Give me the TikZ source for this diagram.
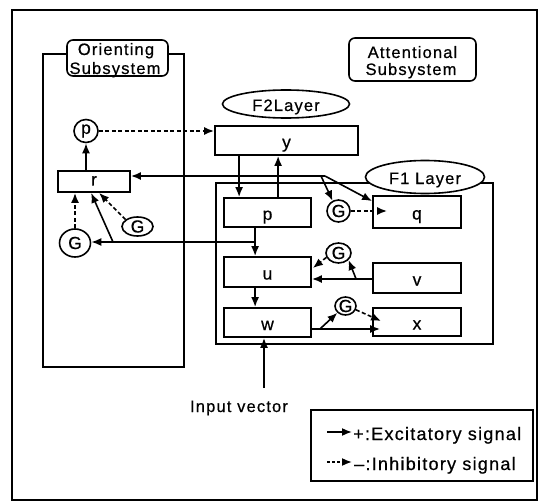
\documentclass[tikz,border=0pt]{standalone}
\usepackage{fontspec}
\setmainfont{Liberation Sans}[LetterSpace=7, FakeBold=0.6]
\usetikzlibrary{arrows.meta,shapes.geometric,calc}

\tikzset{
  frame/.style={draw, line width=1.9pt},
  block/.style={draw, line width=1.8pt, rectangle, inner sep=0pt,
    font=\fontsize{17.5}{17.5}\selectfont, text height=15pt, text depth=0pt},
  gate/.style={draw, line width=1.6pt, ellipse, inner sep=0pt,
    font=\fontsize{17.5}{17.5}\selectfont},
  title/.style={draw, line width=1.6pt, rounded corners=6pt, fill=white, inner sep=0pt},
  ttext/.style={anchor=base, inner sep=0pt, font=\fontsize{16.5}{18}\selectfont},
  layer/.style={draw, line width=1.6pt, ellipse, fill=white, inner sep=0pt,
    font=\fontsize{16.5}{18}\selectfont, text height=14pt, text depth=0pt},
  exc/.style={line width=1.6pt, -{Latex[length=10pt,width=8pt]}},
  inh/.style={exc, dash pattern=on 4pt off 2.5pt},
  plain/.style={line width=1.6pt},
  legtext/.style={anchor=base west, inner sep=0pt, font=\fontsize{18}{20}\selectfont},
}

\begin{document}
\begin{tikzpicture}[x=1pt,y=-1pt]
\useasboundingbox (0,0) rectangle (539,503);

% outer frame, orienting subsystem and F1 layer enclosures
\draw[frame] (12,10) rectangle (537,500);
\draw[frame] (43,54) rectangle (184,367);
\draw[frame] (216,183) rectangle (493,344);

% subsystem titles
\node[title, minimum width=101pt, minimum height=36pt] (otitle) at (117.5,58) {};
\node[ttext] (otitle1) at (116,55) {Orienting};
\node[ttext] (otitle2) at (115,74) {Subsystem};
\node[title, minimum width=127pt, minimum height=43pt] (atitle) at (412.5,59.5) {};
\node[ttext] (atitle1) at (412.5,58) {Attentional};
\node[ttext] (atitle2) at (411,75) {Subsystem};

% layer labels
\node[layer, minimum width=127pt, minimum height=28pt] (f2) at (286,104) {F2Layer};
\node[layer, minimum width=119pt, minimum height=33pt] (f1) at (425,177) {F1 Layer};

% units
\node[block, minimum width=143pt, minimum height=29pt] (ybox) at (286.5,140.5) {y};
\node[block, minimum width=87pt, minimum height=29pt] (pbox) at (267.5,212.5) {p};
\node[block, minimum width=88pt, minimum height=32pt] (qbox) at (417,212) {q};
\node[block, minimum width=87pt, minimum height=30pt] (ubox) at (267.5,272) {u};
\node[block, minimum width=88pt, minimum height=30pt] (vbox) at (417,278) {v};
\node[block, minimum width=87pt, minimum height=29pt] (wbox) at (267.5,322.5) {w};
\node[block, minimum width=88pt, minimum height=28pt] (xbox) at (417,322) {x};
\node[block, minimum width=72pt, minimum height=21pt, text height=8pt] (rbox) at (94,181.5) {r};

% gain controls
\node[gate, minimum width=23pt, minimum height=22pt] (g1) at (338.5,211) {G};
\node[gate, minimum width=25pt, minimum height=20pt] (g2) at (338.5,253) {G};
\node[gate, minimum width=21pt, minimum height=18pt] (g3) at (345.5,306) {G};
\node[gate, minimum width=24pt, minimum height=23pt] (pc) at (86,131) {p};
\node[gate, minimum width=31pt, minimum height=28pt] (gl) at (75,243) {G};
\node[gate, minimum width=31pt, minimum height=19pt] (gr) at (137.5,226.5) {G};

% F2 <-> F1
\coordinate (ydn) at ($(ybox.south west)+(25,0)$);
\draw[exc] (ydn) -- (ydn |- pbox.north);
\coordinate (pupt) at ($(pbox.north west)+(55,0)$);
\draw[exc] (pupt) -- (pupt |- ybox.south);

% p signal to r, G and q
\coordinate (j1) at (279,176);
\coordinate (j1b) at (321,176);
\coordinate (j1c) at (325,176);
\draw[exc] (j1) -- (j1 -| rbox.east);
\draw[plain] (j1) -- (j1c);
\draw[exc] (j1b) -- (g1.120);
\coordinate (qin) at ($(qbox.north west)+(0,6)$);
\draw[exc] (j1c) -- (qin);
\coordinate (qtip) at ($(qbox.west)+(15,0)$);
\draw[inh] (g1.east) -- (g1.east -| qtip);

% orienting subsystem
\draw[exc] (pc.south |- rbox.north) -- (pc.south);
\coordinate (pcy) at (pc.east -| ybox.west);
\draw[inh] (pc.east) -- (pcy);
\coordinate (pdn) at ($(pbox.south west)+(32,0)$);
\draw[exc] (pdn) -- (pdn |- ubox.north);
\coordinate (j2) at (256,242);
\draw[exc] (j2) -- (j2 -| gl.east);
\coordinate (j3) at (113,242);
\coordinate (rin) at ($(rbox.south west)+(34,0)$);
\draw[exc] (j3) -- (rin);
\draw[inh] (gl.north) -- (gl.north |- rbox.south);
\coordinate (rin2) at ($(rbox.south west)+(42,0)$);
\draw[inh] (gr.150) -- (rin2);

% F1 internal connections
\coordinate (udn) at ($(ubox.south west)+(32,0)$);
\draw[exc] (udn) -- (udn |- wbox.north);
\coordinate (vout) at ($(vbox.west)+(0,1)$);
\draw[exc] (vout) -- (vout -| ubox.east);
\coordinate (j4) at ($(vout)+(-16,0)$);
\draw[exc] (j4) -- (g2.-35);
\coordinate (uin) at ($(ubox.east)+(1,-4)$);
\draw[inh] (g2.200) -- (uin);
\coordinate (wout) at ($(wbox.east)+(0,6.5)$);
\coordinate (xin) at ($(xbox.west)+(8,7)$);
\draw[exc] (wout) -- (xin);
\coordinate (j5) at ($(wout)+(8,0)$);
\draw[exc] (j5) -- (g3.220);
\coordinate (xin2) at ($(xbox.west)+(9,-1)$);
\draw[inh] (g3.-20) -- (xin2);

% input
\coordinate (inp) at (264,388);
\draw[exc] (inp) -- (inp |- wbox.south);
\node[anchor=base, inner sep=0pt, font=\fontsize{16.5}{18}\selectfont] (inlabel) at (239,412) {Input vector};

% legend
\node[draw, line width=1.8pt, minimum width=222pt, minimum height=71pt, inner sep=0pt] (legend) at (422,445.5) {};
\coordinate (l1a) at (327,432);
\coordinate (l1b) at (352,432);
\draw[exc] (l1a) -- (l1b);
\node[legtext] (l1) at (353,440) {+:Excitatory signal};
\coordinate (l2a) at (327,462);
\coordinate (l2b) at (352,462);
\draw[inh, dash pattern=on 3pt off 2pt] (l2a) -- (l2b);
\node[legtext] (l2) at (354,470) {–:Inhibitory signal};
\end{tikzpicture}
\end{document}
